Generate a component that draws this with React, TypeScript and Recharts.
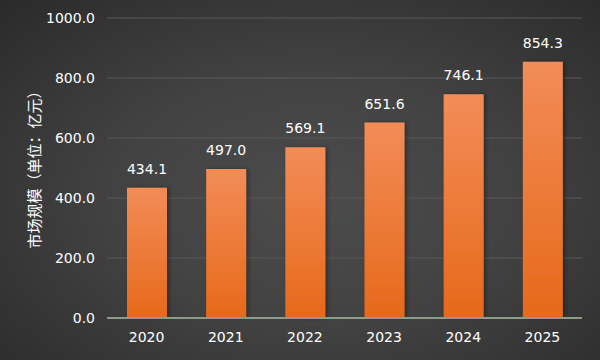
import { BarChart, Bar, XAxis, YAxis, CartesianGrid, LabelList, Label } from "recharts"

const years = ["2020", "2021", "2022", "2023", "2024", "2025"]
const marketSize = [434.1, 497.0, 569.1, 651.6, 746.1, 854.3]
const yTicks = [0, 200, 400, 600, 800, 1000]

const data = years.map((year, i) => ({ year, value: marketSize[i] }))

const font = "DejaVu Sans, sans-serif"

export default function App() {
  return (
    <div
      style={{
        position: "absolute",
        left: 0,
        top: 0,
        width: 600,
        height: 360,
        background: "radial-gradient(ellipse at 52% 55%, #4c4c4c 0%, #424242 45%, #2a2a2a 100%)",
        fontFamily: font,
      }}
    >
      <BarChart width={600} height={360} data={data} margin={{ top: 18, right: 18, bottom: 12, left: 0 }}>
        <defs>
          <linearGradient id="barFill" x1="0" y1="0" x2="0" y2="1">
            <stop offset="0%" stopColor="#f28c58" />
            <stop offset="100%" stopColor="#e7691a" />
          </linearGradient>
          <filter id="barShadow" x="-20%" y="-10%" width="140%" height="120%">
            <feDropShadow dx="2" dy="0" stdDeviation="2" floodColor="#000" floodOpacity="0.35" />
          </filter>
        </defs>
        <CartesianGrid vertical={false} stroke="#585858" strokeWidth={1} />
        <XAxis
          dataKey="year"
          height={30}
          axisLine={{ stroke: "#8d9c84", strokeWidth: 2 }}
          tickLine={false}
          tickMargin={8}
          tick={{ fill: "#ffffff", fontSize: 14, fontFamily: font }}
        />
        <YAxis
          width={107}
          domain={[0, 1000]}
          ticks={yTicks}
          axisLine={false}
          tickLine={false}
          tickMargin={6}
          tickFormatter={(v: number) => v.toFixed(1)}
          tick={{ fill: "#ffffff", fontSize: 14, fontFamily: font }}
        >
          <Label
            content={() => (
              <text
                x={33}
                y={166}
                transform="rotate(-90 33 166)"
                textAnchor="middle"
                dominantBaseline="central"
                fill="#ffffff"
                fontSize={15}
                fontFamily="Noto Sans CJK SC, sans-serif"
              >
                市场规模（单位：亿元）
              </text>
            )}
          />
        </YAxis>
        <Bar dataKey="value" fill="url(#barFill)" barSize={40} filter="url(#barShadow)" isAnimationActive={false}>
          <LabelList
            dataKey="value"
            position="top"
            offset={14}
            formatter={(v: number) => v.toFixed(1)}
            fill="#ffffff"
            fontSize={14}
            fontFamily={font}
          />
        </Bar>
      </BarChart>
    </div>
  )
}
